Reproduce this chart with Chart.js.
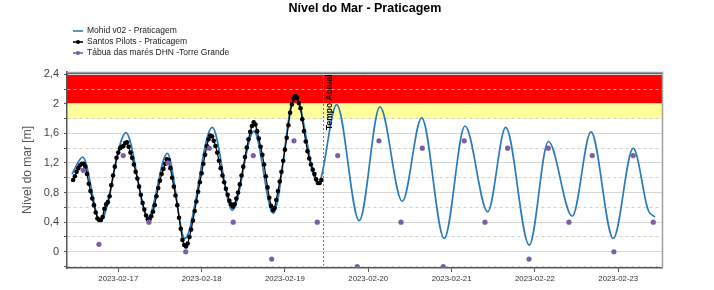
<!DOCTYPE html>
<html><head><meta charset="utf-8">
<script src="https://cdn.jsdelivr.net/npm/chart.js@4.4.1/dist/chart.umd.min.js"></script>
<style>html,body{margin:0;padding:0;background:#fff}canvas{display:block}</style>
</head><body>
<canvas id="c" width="714" height="290"></canvas>
<script>
// ---------------- DATA ----------------
const chartTitle = "Nível do Mar - Praticagem";
const yAxisTitle = "Nível do mar [m]";
const seriesNames = ["Mohid v02 - Praticagem", "Santos Pilots - Praticagem", "Tábua das marés DHN -Torre Grande"];
const xTickDates = ["2023-02-17", "2023-02-18", "2023-02-19", "2023-02-20", "2023-02-21", "2023-02-22", "2023-02-23"];
const yTickValues = [-0.2, 0, 0.2, 0.4, 0.6, 0.8, 1.0, 1.2, 1.4, 1.6, 1.8, 2.0, 2.2, 2.4];
const yTickLabels = ["", "0", "", "0,4", "", "0,8", "", "1,2", "", "1,6", "", "2", "", "2,4"];
const xStart = "2023-02-16 09:14";
const xEnd = "2023-02-23 12:36";
const yMin = -0.22, yMax = 2.43;
const nowLabel = "Tempo Actual";
const nowTime = "2023-02-19 10:52";
const alertLevel = 2.0;
const attentionLevel = 1.8;

// Mohid v02 model (turning points)
const mohidTimes = [
  "2023-02-16 10:40", "2023-02-16 13:45", "2023-02-16 18:49",
  "2023-02-17 02:12", "2023-02-17 08:33", "2023-02-17 14:07", "2023-02-17 19:12",
  "2023-02-18 03:04", "2023-02-18 08:50", "2023-02-18 15:04", "2023-02-18 20:38",
  "2023-02-19 02:54", "2023-02-19 09:32", "2023-02-19 14:54", "2023-02-19 21:24",
  "2023-02-20 03:22", "2023-02-20 09:48", "2023-02-20 15:23", "2023-02-20 21:53",
  "2023-02-21 03:52", "2023-02-21 10:24", "2023-02-21 15:35", "2023-02-21 22:22",
  "2023-02-22 03:53", "2023-02-22 10:45", "2023-02-22 16:09", "2023-02-22 22:34",
  "2023-02-23 04:19", "2023-02-23 08:38", "2023-02-23 10:34"
];
const mohidValues = [
  1.05, 1.28, 0.41,
  1.61, 0.46, 1.33, 0.18,
  1.68, 0.56, 1.63, 0.52,
  2.12, 0.92, 1.99, 0.42,
  1.96, 0.68, 1.81, 0.18,
  1.70, 0.54, 1.68, 0.09,
  1.49, 0.48, 1.62, 0.18,
  1.40, 0.56, 0.47
];

// Santos Pilots observations, every 30 minutes from pilotsStart
const pilotsStart = "2023-02-16 11:00";
const pilotsStepMinutes = 30;
const pilotsValues = [
  0.97,1.02,1.08,1.13,1.17,1.19,1.19,1.15,1.05,0.92,0.82,0.72,
  0.63,0.53,0.45,0.43,0.43,0.47,0.58,0.64,0.67,0.75,0.90,1.03,
  1.15,1.27,1.34,1.40,1.42,1.43,1.47,1.48,1.42,1.34,1.27,1.18,
  1.08,0.99,0.88,0.77,0.66,0.57,0.49,0.44,0.44,0.48,0.54,0.63,
  0.75,0.86,0.96,1.05,1.12,1.19,1.25,1.24,1.13,1.00,0.88,0.76,
  0.63,0.46,0.31,0.16,0.09,0.07,0.11,0.20,0.30,0.42,0.55,0.68,
  0.81,0.94,1.06,1.19,1.31,1.43,1.52,1.57,1.56,1.50,1.43,1.34,
  1.23,1.13,1.03,0.94,0.85,0.77,0.69,0.64,0.61,0.64,0.72,0.80,
  0.91,1.03,1.15,1.28,1.41,1.52,1.62,1.70,1.75,1.72,1.63,1.53,
  1.42,1.31,1.18,1.02,0.87,0.73,0.62,0.56,0.59,0.70,0.82,0.95,
  1.08,1.23,1.38,1.54,1.71,1.88,1.99,2.07,2.10,2.08,2.01,1.94,
  1.79,1.63,1.49,1.36,1.26,1.18,1.11,1.05,0.98,0.93,0.93,0.97
];

// DHN tide table (Torre Grande)
const tideTimes = [
  "2023-02-16 13:55", "2023-02-16 18:26",
  "2023-02-17 01:26", "2023-02-17 08:50", "2023-02-17 14:18", "2023-02-17 19:25",
  "2023-02-18 02:12", "2023-02-18 09:07", "2023-02-18 14:53", "2023-02-18 20:11",
  "2023-02-19 02:36", "2023-02-19 09:19", "2023-02-19 15:12", "2023-02-19 20:50",
  "2023-02-20 03:04", "2023-02-20 09:26", "2023-02-20 15:33", "2023-02-20 21:36",
  "2023-02-21 03:39", "2023-02-21 09:37", "2023-02-21 16:09", "2023-02-21 22:18",
  "2023-02-22 03:50", "2023-02-22 09:48", "2023-02-22 16:31", "2023-02-22 22:45",
  "2023-02-23 04:19", "2023-02-23 10:05"
];
const tideValues = [
  1.10, 0.10,
  1.30, 0.40, 1.20, 0.00,
  1.40, 0.40, 1.30, -0.10,
  1.50, 0.40, 1.30, -0.20,
  1.50, 0.40, 1.40, -0.20,
  1.50, 0.40, 1.40, -0.10,
  1.40, 0.40, 1.30, 0.00,
  1.30, 0.40
];

// ---------------- HELPERS ----------------
const EPOCH = Date.UTC(2023, 1, 16);
function toDay(s) {
  const [d, t] = s.split(' ');
  const [Y, M, D] = d.split('-').map(Number);
  const [h, m] = (t || '00:00').split(':').map(Number);
  return (Date.UTC(Y, M - 1, D, h, m) - EPOCH) / 86400000;
}
const COL_MOHID = '#2b7bba', COL_PILOTS = '#000000', COL_TIDE = '#7b5ea6';
const FONT = '"Liberation Sans", Arial, sans-serif';

const mohidData = mohidTimes.map((t, i) => ({ x: toDay(t), y: mohidValues[i] }));
const p0 = toDay(pilotsStart);
const pilotsData = pilotsValues.map((v, i) => ({ x: p0 + i * pilotsStepMinutes / 1440, y: v }));
const tideData = tideTimes.map((t, i) => ({ x: toDay(t), y: tideValues[i] }));
const xTickValues = xTickDates.map(d => toDay(d + ' 00:00'));
const isMajorY = i => yTickLabels[i] !== "";

// ---------------- DECOR PLUGIN ----------------
const decor = {
  id: 'decor',
  beforeDraw(chart) {
    const { ctx, chartArea: a, scales: { y } } = chart;
    const yA = y.getPixelForValue(alertLevel), yB = y.getPixelForValue(attentionLevel);
    ctx.save();
    ctx.fillStyle = '#ff0000';
    ctx.fillRect(a.left, a.top, a.right - a.left, yA - a.top);
    ctx.fillStyle = '#ffff9c';
    ctx.fillRect(a.left, yA, a.right - a.left, yB - yA);
    ctx.restore();
  },
  afterDatasetsDraw(chart) {
    const { ctx, chartArea: a, scales: { x } } = chart;
    const px = Math.round(x.getPixelForValue(toDay(nowTime))) + 0.5;
    ctx.save();
    ctx.strokeStyle = '#2fa843';
    ctx.lineWidth = 1;
    ctx.setLineDash([2, 2]);
    ctx.beginPath(); ctx.moveTo(px, a.top); ctx.lineTo(px, a.bottom); ctx.stroke();
    ctx.setLineDash([]);
    ctx.translate(px + 6, a.top + 58);
    ctx.rotate(-Math.PI / 2);
    ctx.fillStyle = '#000';
    ctx.font = 'bold 8.5px ' + FONT;
    ctx.textAlign = 'left'; ctx.textBaseline = 'middle';
    ctx.fillText(nowLabel, 0, 0);
    ctx.restore();
  },
  afterDraw(chart) {
    const { ctx, chartArea: a } = chart;
    ctx.save();
    ctx.strokeStyle = '#a0a0a0'; ctx.lineWidth = 1.5;
    ctx.beginPath(); ctx.moveTo(a.left, a.top + 0.5); ctx.lineTo(a.right + 0.5, a.top + 0.5); ctx.lineTo(a.right + 0.5, a.bottom); ctx.stroke();
    ctx.fillStyle = '#000';
    ctx.font = 'bold 12.5px ' + FONT;
    ctx.textAlign = 'center'; ctx.textBaseline = 'middle';
    ctx.fillText(chartTitle, 365, 9);
    const rows = [31, 42, 53];
    const cols = [COL_MOHID, COL_PILOTS, COL_TIDE];
    ctx.font = '8.5px ' + FONT;
    ctx.textAlign = 'left';
    rows.forEach((yy, i) => {
      ctx.strokeStyle = cols[i]; ctx.lineWidth = 1.6;
      ctx.beginPath(); ctx.moveTo(73, yy); ctx.lineTo(83, yy); ctx.stroke();
      if (i > 0) { ctx.fillStyle = cols[i]; ctx.beginPath(); ctx.arc(78, yy, 2, 0, Math.PI * 2); ctx.fill(); }
      ctx.fillStyle = '#222';
      ctx.fillText(seriesNames[i], 87, yy);
    });
    ctx.restore();
  }
};

// ---------------- CHART ----------------
new Chart(document.getElementById('c'), {
  type: 'scatter',
  data: {
    datasets: [
      { label: seriesNames[0], data: mohidData, showLine: true, borderColor: COL_MOHID, borderWidth: 1.7,
        pointRadius: 0, cubicInterpolationMode: 'monotone', order: 2 },
      { label: seriesNames[1], data: pilotsData, showLine: true, borderColor: COL_PILOTS, borderWidth: 1.2,
        backgroundColor: COL_PILOTS, pointRadius: 2.3, pointBorderWidth: 0, order: 1 },
      { label: seriesNames[2], data: tideData, showLine: false, backgroundColor: COL_TIDE, borderColor: COL_TIDE,
        pointRadius: 2.6, pointBorderWidth: 0, order: 0 }
    ]
  },
  options: {
    responsive: false, animation: false, devicePixelRatio: 1,
    layout: { padding: { top: 72, right: 52, left: 0, bottom: 0 } },
    plugins: { legend: { display: false }, title: { display: false }, tooltip: { enabled: false } },
    scales: {
      x: {
        type: 'linear', min: toDay(xStart), max: toDay(xEnd),
        afterBuildTicks: s => { s.ticks = xTickValues.map(v => ({ value: v })); },
        afterFit: s => { s.height = 22; },
        ticks: { autoSkip: false, maxRotation: 0, padding: 2, color: '#333', font: { family: FONT, size: 7.8 },
          callback: (v, i) => xTickDates[i] },
        grid: { drawOnChartArea: false, drawTicks: true, tickLength: 4, tickColor: '#555', tickWidth: 1 },
        border: { color: '#555', width: 1.5 }
      },
      y: {
        type: 'linear', min: yMin, max: yMax,
        afterBuildTicks: s => { s.ticks = yTickValues.map(v => ({ value: v })); },
        afterFit: s => { s.width = 67; },
        ticks: { autoSkip: false, padding: 5, color: '#444', font: { family: FONT, size: 11 },
          callback: (v, i) => yTickLabels[i] },
        grid: {
          color: c => (c.index !== undefined && isMajorY(c.index)) ? '#d6d6d6' : '#cfcfcf',
          lineWidth: 1, drawTicks: true, tickLength: 3, tickColor: '#555'
        },
        border: { color: '#555', width: 1.5, dash: c => (c.index !== undefined && c.tick && !isMajorY(c.index)) ? [3, 3] : [] },
        title: { display: true, text: yAxisTitle, color: '#555', font: { family: FONT, size: 12 }, padding: { top: 20, bottom: 0 } }
      }
    }
  },
  plugins: [decor]
});
</script>
</body></html>
